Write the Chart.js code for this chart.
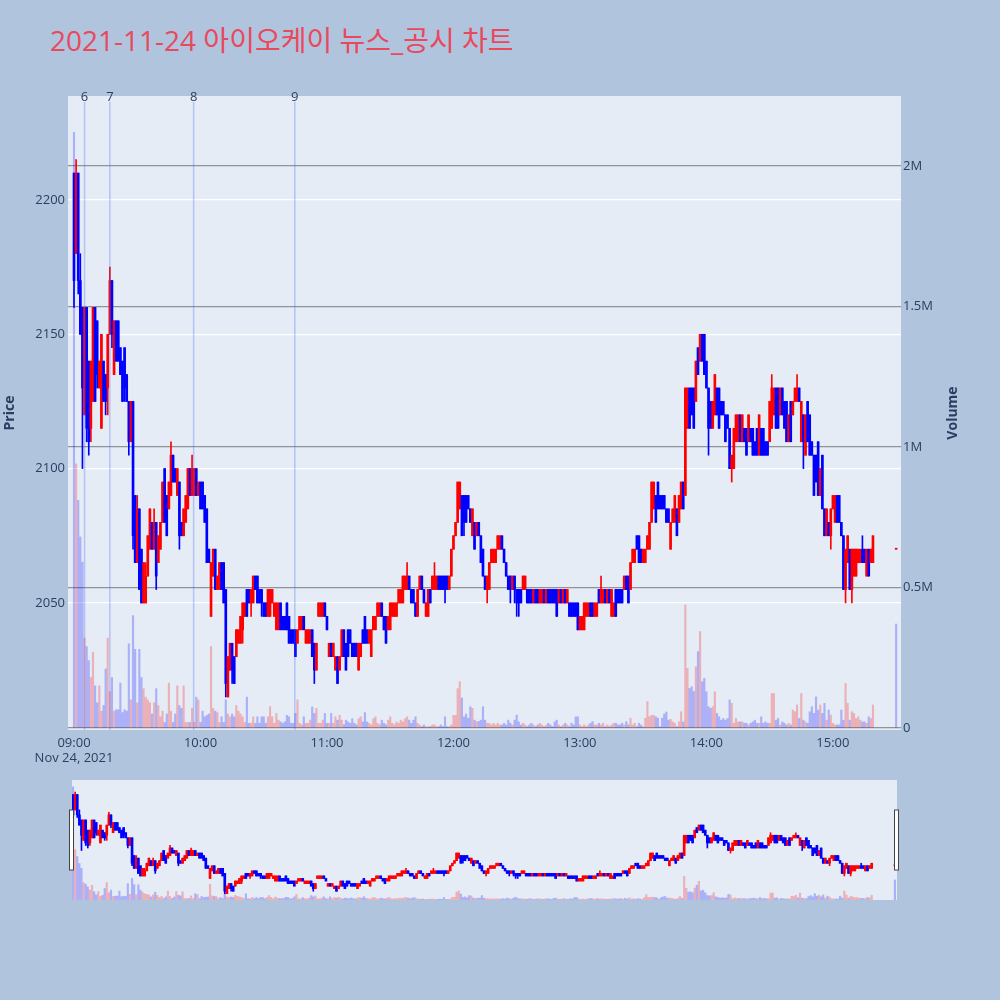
<!DOCTYPE html>
<html lang="ko">
<head>
<meta charset="utf-8">
<title>2021-11-24 아이오케이 뉴스_공시 차트</title>
<script src="https://cdn.jsdelivr.net/npm/chart.js@4.4.1/dist/chart.umd.min.js"></script>
<style>
  html, body { margin: 0; padding: 0; background: #b0c4de; }
  #page { position: relative; width: 1000px; height: 1000px; overflow: hidden; }
  #title {
    position: absolute; left: 50px; top: 21px; line-height: 38px;
    font-size: 28px; font-family: 'Open Sans', 'Noto Sans CJK KR', sans-serif;
    color: #e8495d; white-space: nowrap;
  }
  #mainChart { position: absolute; left: 0; top: 0; }
  #sliderChart { position: absolute; left: 0; top: 770px; }
</style>
</head>
<body>
<div id="page">
  <div id="title">2021-11-24 아이오케이 뉴스_공시 차트</div>
  <canvas id="mainChart" width="1000" height="770"></canvas>
  <canvas id="sliderChart" width="1000" height="140"></canvas>
</div>
<script>
/* ─── Data: one bar per minute from 09:00, last bar is the 15:30 closing auction ─── */
const firstBar   = '09:00';
const auctionBar = '15:30';

const opens = [
  2210,2180,2210,2170,2160,2120,2160,2140,2115,2125,
  2160,2155,2130,2115,2140,2135,2130,2150,2170,2135,
  2155,2155,2145,2140,2145,2135,2125,2110,2125,2090,
  2065,2085,2070,2050,2050,2060,2070,2080,2070,2080,
  2065,2070,2080,2100,2090,2085,2090,2105,2100,2090,
  2095,2080,2075,2080,2085,2100,2090,2090,2100,2090,
  2095,2095,2090,2085,2070,2045,2060,2070,2055,2055,
  2065,2065,2055,2015,2025,2035,2030,2030,2035,2035,
  2040,2045,2055,2055,2050,2050,2060,2060,2055,2055,
  2050,2050,2045,2045,2050,2045,2040,2040,2050,2045,
  2045,2050,2045,2040,2040,2040,2035,2040,2040,2045,
  2035,2035,2035,2040,2035,2025,2045,2045,2045,2050,
  2045,2030,2035,2030,2025,2030,2025,2030,2040,2035,
  2040,2040,2035,2035,2035,2025,2030,2040,2045,2040,
  2035,2030,2040,2040,2045,2045,2050,2045,2045,2040,
  2040,2045,2045,2045,2050,2050,2050,2055,2055,2060,
  2055,2055,2050,2045,2055,2060,2055,2045,2045,2055,
  2055,2055,2055,2060,2060,2060,2060,2060,2055,2060,
  2070,2075,2080,2085,2090,2090,2090,2090,2085,2075,
  2080,2075,2080,2075,2070,2060,2055,2055,2065,2065,
  2065,2070,2070,2075,2070,2065,2060,2060,2055,2060,
  2055,2055,2055,2055,2055,2055,2055,2055,2050,2055,
  2055,2050,2050,2055,2050,2055,2055,2055,2055,2055,
  2050,2055,2050,2055,2050,2050,2050,2050,2050,2050,
  2040,2040,2040,2045,2045,2050,2050,2045,2045,2055,
  2050,2050,2055,2050,2055,2045,2045,2055,2055,2055,
  2055,2055,2060,2060,2055,2065,2065,2075,2075,2070,
  2065,2065,2070,2070,2080,2085,2090,2095,2090,2090,
  2090,2085,2085,2070,2080,2080,2085,2080,2085,2095,
  2090,2115,2130,2130,2130,2125,2145,2140,2150,2150,
  2140,2130,2125,2115,2120,2130,2130,2125,2125,2120,
  2120,2115,2100,2100,2110,2110,2120,2110,2115,2115,
  2110,2115,2115,2110,2115,2105,2115,2115,2110,2110,
  2110,2115,2120,2130,2130,2120,2130,2125,2125,2110,
  2125,2120,2125,2125,2130,2110,2120,2105,2125,2120,
  2110,2105,2105,2110,2090,2105,2085,2075,2080,2075,
  2085,2080,2090,2090,2080,2075,2055,2065,2070,2055,
  2060,2060,2065,2065,2070,2070,2060,2070,2065,2065,
  2070
];

const highs = [
  2210,2215,2210,2180,2160,2160,2160,2140,2140,2160,
  2160,2155,2140,2150,2140,2135,2150,2175,2170,2155,
  2155,2155,2145,2140,2145,2135,2125,2125,2125,2090,
  2090,2085,2070,2065,2065,2075,2085,2080,2085,2080,
  2075,2080,2095,2100,2090,2095,2110,2105,2100,2100,
  2095,2080,2085,2090,2100,2100,2105,2100,2100,2095,
  2095,2095,2090,2085,2070,2065,2070,2070,2060,2065,
  2065,2065,2055,2030,2035,2035,2030,2040,2040,2045,
  2050,2050,2055,2055,2055,2060,2060,2060,2055,2055,
  2050,2050,2055,2055,2055,2050,2050,2050,2050,2045,
  2045,2050,2045,2040,2040,2040,2040,2045,2045,2045,
  2040,2040,2040,2040,2035,2035,2050,2050,2050,2050,
  2045,2035,2035,2035,2030,2030,2030,2040,2040,2035,
  2040,2040,2035,2035,2035,2035,2035,2040,2045,2040,
  2040,2040,2045,2045,2050,2050,2050,2045,2045,2045,
  2050,2050,2050,2050,2055,2055,2060,2060,2065,2060,
  2055,2055,2050,2055,2060,2060,2055,2050,2055,2055,
  2060,2065,2060,2060,2060,2060,2060,2060,2060,2070,
  2075,2080,2095,2095,2090,2090,2090,2090,2085,2085,
  2080,2080,2080,2075,2070,2060,2060,2065,2070,2070,
  2070,2075,2075,2075,2070,2065,2060,2060,2060,2060,
  2055,2055,2055,2060,2060,2055,2055,2055,2055,2055,
  2055,2055,2055,2055,2055,2055,2055,2055,2055,2055,
  2055,2055,2055,2055,2055,2050,2050,2050,2050,2050,
  2045,2045,2050,2050,2050,2050,2050,2050,2050,2055,
  2060,2055,2055,2055,2055,2055,2050,2055,2055,2055,
  2055,2060,2060,2060,2065,2070,2070,2075,2075,2070,
  2070,2070,2075,2080,2095,2095,2090,2095,2090,2090,
  2090,2085,2085,2080,2085,2090,2085,2090,2095,2095,
  2130,2130,2130,2130,2130,2140,2145,2150,2150,2150,
  2140,2130,2125,2125,2135,2130,2130,2125,2125,2120,
  2120,2115,2105,2115,2120,2120,2120,2120,2115,2115,
  2120,2115,2115,2110,2115,2120,2115,2115,2110,2110,
  2125,2135,2130,2130,2130,2130,2130,2125,2125,2120,
  2125,2125,2130,2135,2130,2125,2120,2120,2125,2120,
  2110,2105,2105,2110,2100,2105,2085,2085,2080,2085,
  2090,2090,2090,2090,2080,2075,2070,2075,2070,2070,
  2070,2070,2070,2070,2075,2070,2070,2070,2070,2075,
  2070
];

const lows = [
  2160,2180,2165,2150,2100,2120,2110,2105,2110,2125,
  2125,2130,2130,2115,2125,2120,2120,2150,2145,2135,
  2140,2140,2135,2125,2125,2125,2105,2110,2070,2065,
  2065,2055,2050,2050,2050,2060,2070,2070,2070,2055,
  2065,2070,2080,2080,2075,2085,2090,2095,2095,2090,
  2070,2075,2075,2080,2085,2090,2090,2090,2090,2090,
  2085,2085,2080,2065,2065,2045,2060,2055,2055,2055,
  2055,2050,2015,2015,2025,2020,2020,2030,2035,2035,
  2035,2045,2045,2050,2045,2050,2055,2050,2050,2045,
  2045,2045,2045,2045,2050,2045,2040,2040,2040,2040,
  2040,2040,2035,2035,2035,2030,2035,2040,2040,2040,
  2035,2035,2035,2030,2020,2025,2045,2045,2045,2045,
  2040,2030,2030,2030,2025,2020,2025,2030,2030,2025,
  2030,2035,2030,2030,2030,2025,2030,2035,2035,2035,
  2035,2030,2040,2040,2045,2045,2045,2040,2035,2040,
  2040,2045,2045,2045,2050,2050,2050,2055,2055,2055,
  2050,2050,2045,2045,2055,2055,2050,2045,2045,2050,
  2055,2055,2055,2055,2055,2055,2050,2055,2055,2060,
  2070,2075,2080,2085,2075,2075,2080,2085,2080,2075,
  2070,2075,2075,2065,2060,2055,2050,2055,2065,2065,
  2065,2070,2070,2070,2065,2060,2055,2050,2055,2050,
  2045,2045,2050,2055,2055,2050,2050,2050,2050,2050,
  2050,2050,2050,2050,2050,2050,2050,2050,2050,2045,
  2050,2050,2050,2050,2050,2045,2045,2045,2045,2040,
  2040,2040,2040,2045,2045,2045,2045,2045,2045,2050,
  2050,2050,2050,2050,2050,2045,2045,2045,2050,2050,
  2050,2055,2055,2050,2055,2065,2065,2070,2065,2065,
  2065,2065,2070,2070,2080,2085,2080,2085,2085,2085,
  2085,2080,2080,2070,2080,2080,2075,2080,2085,2085,
  2090,2115,2115,2120,2115,2125,2135,2140,2140,2135,
  2130,2105,2115,2115,2120,2120,2115,2120,2120,2110,
  2115,2100,2095,2100,2110,2110,2110,2110,2110,2105,
  2110,2110,2105,2105,2105,2105,2105,2105,2105,2105,
  2110,2115,2120,2115,2115,2120,2120,2115,2110,2110,
  2110,2120,2125,2125,2125,2110,2100,2105,2110,2105,
  2105,2090,2095,2090,2090,2085,2075,2075,2075,2070,
  2085,2080,2080,2080,2075,2055,2050,2065,2055,2050,
  2060,2060,2065,2065,2065,2065,2060,2060,2065,2065,
  2070
];

const closes = [
  2170,2210,2170,2150,2130,2160,2115,2110,2140,2160,
  2125,2135,2140,2150,2125,2125,2150,2170,2150,2155,
  2140,2140,2135,2125,2130,2125,2110,2125,2075,2065,
  2085,2055,2050,2065,2060,2075,2085,2070,2080,2060,
  2075,2080,2095,2080,2075,2095,2105,2095,2095,2100,
  2075,2075,2085,2090,2100,2090,2100,2100,2090,2095,
  2085,2085,2080,2065,2065,2065,2070,2055,2060,2065,
  2055,2050,2020,2030,2035,2025,2020,2040,2040,2045,
  2050,2050,2045,2050,2055,2060,2055,2050,2050,2050,
  2045,2045,2055,2055,2055,2050,2050,2050,2040,2040,
  2040,2040,2035,2035,2035,2030,2040,2045,2045,2040,
  2040,2040,2040,2030,2025,2035,2050,2050,2050,2045,
  2040,2035,2030,2035,2030,2020,2030,2040,2030,2025,
  2030,2035,2030,2030,2030,2035,2035,2035,2035,2035,
  2040,2040,2045,2045,2050,2050,2045,2040,2035,2045,
  2050,2050,2050,2050,2055,2055,2060,2060,2060,2055,
  2050,2050,2045,2055,2060,2055,2050,2050,2055,2050,
  2060,2060,2060,2055,2055,2055,2055,2055,2060,2070,
  2075,2080,2095,2095,2075,2080,2080,2085,2080,2085,
  2070,2080,2075,2065,2060,2055,2060,2065,2070,2070,
  2070,2075,2075,2070,2065,2060,2055,2055,2060,2055,
  2050,2050,2050,2060,2060,2050,2050,2050,2055,2050,
  2050,2055,2055,2050,2055,2050,2050,2050,2050,2045,
  2055,2050,2055,2050,2055,2045,2045,2045,2045,2040,
  2045,2045,2050,2050,2050,2045,2045,2050,2050,2050,
  2055,2055,2050,2055,2050,2055,2050,2045,2050,2050,
  2050,2060,2055,2050,2065,2070,2070,2070,2065,2065,
  2070,2070,2075,2080,2095,2095,2080,2085,2085,2085,
  2085,2080,2080,2080,2085,2090,2075,2090,2095,2085,
  2130,2130,2115,2120,2115,2140,2135,2150,2140,2135,
  2130,2115,2115,2125,2135,2120,2115,2120,2120,2110,
  2115,2100,2105,2115,2120,2120,2110,2120,2110,2105,
  2120,2110,2105,2105,2105,2120,2105,2105,2105,2105,
  2125,2130,2130,2115,2115,2130,2120,2115,2110,2120,
  2110,2125,2130,2130,2125,2125,2110,2120,2110,2105,
  2105,2090,2095,2090,2100,2085,2075,2085,2075,2085,
  2090,2090,2080,2080,2075,2055,2070,2075,2055,2070,
  2070,2070,2070,2070,2065,2065,2070,2060,2070,2075,
  2070
];

// traded volume, thousands of shares
const volumesK = [
  2120,940,810,680,590,320,290,240,180,270,
  150,90,150,60,80,210,320,130,180,60,
  65,65,160,55,65,60,300,100,400,280,
  90,280,180,140,110,100,90,50,90,140,
  80,40,60,20,50,160,60,20,50,150,
  80,70,150,20,20,20,70,20,110,100,
  20,60,40,45,50,290,70,60,55,20,
  40,20,100,50,40,50,40,80,60,50,
  40,20,110,17,17,40,17,40,17,40,
  40,17,40,76,40,17,52,28,22,17,
  22,45,40,17,17,52,100,17,12,40,
  17,17,28,75,52,70,17,17,28,52,
  17,17,52,17,40,28,45,28,12,28,
  22,17,33,17,12,33,40,22,55,22,
  17,12,33,40,17,12,28,17,12,28,
  40,17,12,22,17,28,22,33,40,28,
  17,28,40,17,11,5,11,5,5,5,
  11,11,5,5,11,5,40,5,5,11,
  45,45,140,165,107,40,50,35,76,70,
  28,23,23,28,76,28,17,17,11,17,
  11,17,11,11,17,11,28,17,11,28,
  46,22,11,17,11,5,11,17,11,5,
  11,17,11,5,11,17,11,5,22,28,
  11,5,11,17,11,5,17,11,40,40,
  11,5,11,5,11,17,23,11,11,17,
  11,17,5,11,5,11,17,17,11,11,
  17,11,23,11,35,11,17,5,17,11,
  5,35,94,40,45,45,40,35,5,35,
  50,57,28,31,22,17,5,22,58,22,
  438,212,141,147,130,218,272,343,165,177,
  129,76,70,76,129,52,40,28,34,28,
  34,100,88,17,34,22,22,22,17,17,
  11,17,22,28,17,17,40,17,22,17,
  17,123,123,28,34,11,22,17,11,17,
  11,64,58,82,34,123,28,22,17,58,
  76,52,111,64,82,52,88,28,64,46,
  17,11,11,11,64,28,159,88,28,58,
  52,34,40,28,22,22,17,40,34,82,
  370
];

// axis ticks
const timeTicks      = ['09:00', '10:00', '11:00', '12:00', '13:00', '14:00', '15:00'];
const dateLabel      = 'Nov 24, 2021';
const priceTicks     = [2050, 2100, 2150, 2200];
const volumeTicksK   = [0, 500, 1000, 1500, 2000];
const volumeTickText = ['0', '0.5M', '1M', '1.5M', '2M'];

// news / disclosure markers
const newsLabels = ['6', '7', '8', '9'];
const newsTimes  = ['09:05', '09:17', '09:56:45', '10:44:45'];

/* ─── Styles ─── */
const UP        = '#ff0000';
const DOWN      = '#0000ff';
const UP_VOL    = 'rgba(255,0,0,0.25)';
const DOWN_VOL  = 'rgba(0,0,255,0.25)';
const PLOT_BG   = '#e5ecf6';
const INK       = '#2a3f5f';
const FONT      = "'Open Sans', 'Noto Sans CJK KR', sans-serif";

Chart.defaults.font.family = FONT;
Chart.defaults.font.size = 13;
Chart.defaults.color = INK;

function toMinutes(t) {
  const p = t.split(':').map(Number);
  return (p[0] - 9) * 60 + p[1] + (p[2] || 0) / 60;
}

const barX = opens.map(function (_, k) {
  return k === opens.length - 1 ? toMinutes(auctionBar) : toMinutes(firstBar) + k;
});

function isUp(k) { return closes[k] >= opens[k]; }

function buildDatasets() {
  return [{
    label: 'body',
    data: barX.map(function (x, k) { return { x: x, y: [opens[k], closes[k]] }; }),
    yAxisID: 'y',
    backgroundColor: function (ctx) { return isUp(ctx.dataIndex) ? UP : DOWN; },
    barThickness: 2,
    minBarLength: 1,
    grouped: false
  }, {
    label: 'wick',
    data: barX.map(function (x, k) { return { x: x, y: [lows[k], highs[k]] }; }),
    yAxisID: 'y',
    backgroundColor: function (ctx) { return isUp(ctx.dataIndex) ? UP : DOWN; },
    barThickness: 1,
    grouped: false
  }, {
    label: 'Volume',
    data: barX.map(function (x, k) { return { x: x, y: volumesK[k] }; }),
    yAxisID: 'y1',
    backgroundColor: function (ctx) {
      const k = ctx.dataIndex;
      return closes[k] > opens[k] ? UP_VOL : DOWN_VOL;
    },
    barThickness: 1.5,
    grouped: false
  }];
}

/* ─── Plugins ─── */
const plotBackground = {
  id: 'plotBackground',
  beforeDraw: function (chart) {
    const a = chart.chartArea, ctx = chart.ctx;
    ctx.save();
    ctx.fillStyle = PLOT_BG;
    ctx.fillRect(a.left, a.top, a.right - a.left, a.bottom - a.top);
    ctx.restore();
  }
};

const newsMarkers = {
  id: 'newsMarkers',
  afterDatasetsDraw: function (chart) {
    const a = chart.chartArea, ctx = chart.ctx, x = chart.scales.x;
    ctx.save();
    ctx.font = '13px ' + FONT;
    ctx.textAlign = 'center';
    ctx.textBaseline = 'alphabetic';
    newsTimes.forEach(function (t, k) {
      const px = x.getPixelForValue(toMinutes(t));
      ctx.strokeStyle = 'rgba(60,100,240,0.3)';
      ctx.lineWidth = 1.5;
      ctx.beginPath();
      ctx.moveTo(px, a.top + 6);
      ctx.lineTo(px, a.bottom);
      ctx.stroke();
      ctx.fillStyle = INK;
      ctx.fillText(newsLabels[k], px, a.top + 5);
    });
    ctx.restore();
  }
};

const volumeTitle = {
  id: 'volumeTitle',
  afterDraw: function (chart) {
    const a = chart.chartArea, ctx = chart.ctx;
    ctx.save();
    ctx.translate(953, (a.top + a.bottom) / 2);
    ctx.rotate(-Math.PI / 2);
    ctx.font = 'bold 14px ' + FONT;
    ctx.fillStyle = INK;
    ctx.textAlign = 'center';
    ctx.textBaseline = 'middle';
    ctx.fillText('Volume', 0, 0);
    ctx.restore();
  }
};

const sliderHandles = {
  id: 'sliderHandles',
  afterDraw: function (chart) {
    const a = chart.chartArea, ctx = chart.ctx;
    const mid = (a.top + a.bottom) / 2;
    ctx.save();
    ctx.fillStyle = '#ffffff';
    ctx.strokeStyle = '#444444';
    ctx.lineWidth = 1;
    [a.left - 0.5, a.right - 0.5].forEach(function (cx) {
      ctx.fillRect(cx - 2, mid - 30, 4, 60);
      ctx.strokeRect(cx - 2, mid - 30, 4, 60);
    });
    ctx.restore();
  }
};

/* ─── Main candlestick chart ─── */
new Chart(document.getElementById('mainChart'), {
  type: 'bar',
  data: { datasets: buildDatasets() },
  plugins: [plotBackground, newsMarkers, volumeTitle],
  options: {
    responsive: false,
    animation: false,
    events: [],
    layout: { padding: { top: 96, left: 0, right: 0, bottom: 0 } },
    plugins: { legend: { display: false }, tooltip: { enabled: false } },
    scales: {
      x: {
        type: 'linear',
        offset: false,
        min: -2.85,
        max: 392.3,
        afterBuildTicks: function (s) {
          s.ticks = timeTicks.map(function (t) { return { value: toMinutes(t) }; });
        },
        afterFit: function (s) { s.height = 40; },
        ticks: {
          autoSkip: false,
          maxRotation: 0,
          padding: 5,
          callback: function (v, i) { return i === 0 ? [timeTicks[i], dateLabel] : timeTicks[i]; }
        },
        grid: { display: false, drawTicks: false },
        border: { display: false }
      },
      y: {
        position: 'left',
        min: 2002.7,
        max: 2238.7,
        afterBuildTicks: function (s) {
          s.ticks = priceTicks.map(function (v) { return { value: v }; });
        },
        afterFit: function (s) { s.width = 68; },
        ticks: { padding: 3, callback: function (v) { return String(v); } },
        grid: { color: '#ffffff', lineWidth: 1.3, drawTicks: false },
        border: { display: false },
        title: { display: true, text: 'Price', font: { size: 14, weight: 'bold' }, color: INK, padding: { top: 2, bottom: 0 } }
      },
      y1: {
        position: 'right',
        min: -7,
        max: 2249,
        afterBuildTicks: function (s) {
          s.ticks = volumeTicksK.map(function (v) { return { value: v }; });
        },
        afterFit: function (s) { s.width = 99; },
        ticks: {
          padding: 2,
          callback: function (v) { return volumeTickText[volumeTicksK.indexOf(v)]; }
        },
        grid: { color: 'rgba(110,110,110,0.7)', lineWidth: 1.3, drawTicks: false },
        border: { display: false }
      }
    }
  }
});

/* ─── Range slider preview ─── */
new Chart(document.getElementById('sliderChart'), {
  type: 'bar',
  data: { datasets: buildDatasets() },
  plugins: [plotBackground, sliderHandles],
  options: {
    responsive: false,
    animation: false,
    events: [],
    layout: { padding: { top: 10, left: 72, right: 103, bottom: 10 } },
    plugins: { legend: { display: false }, tooltip: { enabled: false } },
    scales: {
      x: { type: 'linear', offset: false, min: -0.5, max: 391, display: false },
      y: { min: 2002.7, max: 2238.7, display: false },
      y1: { min: -7, max: 2249, display: false }
    }
  }
});
</script>
</body>
</html>
